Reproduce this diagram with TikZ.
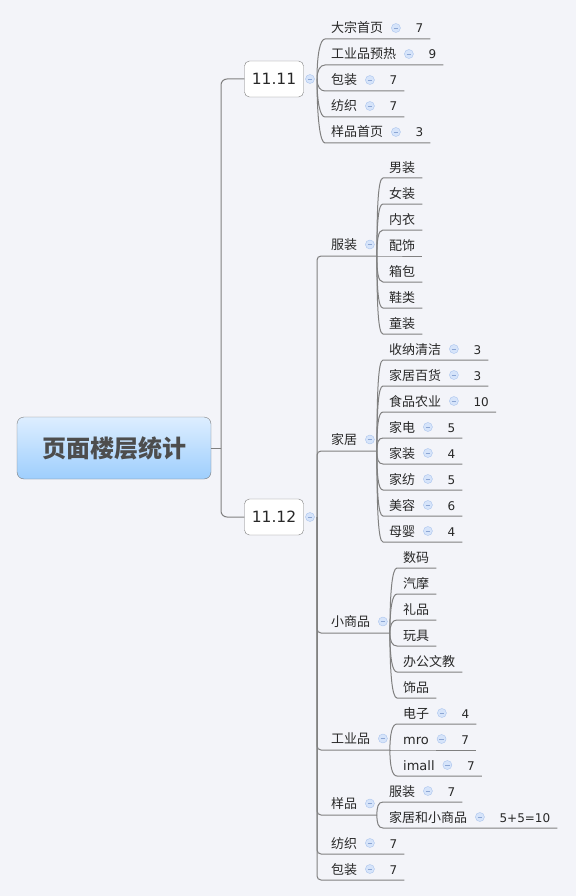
\documentclass[tikz,border=0pt]{standalone}
\usepackage{fontspec}
\usepackage{tikz}
\usepackage{xcolor}
\setmainfont{DejaVu Sans}
\newfontfamily\cjk{Noto Sans CJK SC}
\usetikzlibrary{positioning, calc}
\definecolor{mapBack}{RGB}{243,244,249}
\definecolor{mapLine}{RGB}{128,128,128}
\definecolor{mapInk}{RGB}{40,40,40}
\definecolor{knobFill}{RGB}{214,228,250}
\definecolor{knobEdge}{RGB}{170,196,238}
\definecolor{knobMinus}{RGB}{140,166,212}
\definecolor{rootTop}{RGB}{221,238,255}
\definecolor{rootBot}{RGB}{158,206,253}
\definecolor{rootInk}{RGB}{77,77,77}
\definecolor{boxEdge}{RGB}{125,125,125}

\begin{document}
\begin{tikzpicture}[x=1pt, y=-1pt,
    topic/.style={font=\cjk\fontsize{13}{15}\selectfont, text=mapInk, inner sep=0pt, anchor=base west},
    num/.style={font=\fontsize{12}{14}\selectfont, text=mapInk, inner sep=0pt, anchor=base west},
    knob/.style={circle, draw=knobEdge, fill=knobFill, minimum size=9pt, inner sep=0pt,
      path picture={\draw[draw=knobMinus, line width=0.8pt] ([xshift=-2.2pt]path picture bounding box.center) -- ([xshift=2.2pt]path picture bounding box.center);}},
    datebox/.style={rounded corners=5pt, draw=boxEdge, fill=white, minimum width=59pt, minimum height=36pt,
      font=\fontsize{15.5}{17}\selectfont, text=mapInk},
    root/.style={rounded corners=7pt, draw=boxEdge, top color=rootTop, bottom color=rootBot,
      minimum width=194pt, minimum height=62pt, font=\cjk\bfseries\fontsize{24}{28}\selectfont, text=rootInk},
    branch/.style={draw=mapLine, line width=1pt}
  ]
  \fill[mapBack] (0,0) rectangle (576,896);

  % root and the two dates
  \node[root] (root) at (114,448) {页面楼层统计};
  \node[datebox] (d11) at (274,79) {11.11};
  \node[datebox] (d12) at (274,517) {11.12};
  \node[knob] (d11k) at (310,79) {};
  \node[knob] (d12k) at (310,517) {};
  \coordinate (h0) at (221,448);
  \coordinate (h11) at (317,79);
  \coordinate (h12) at (317,517);
  \draw[branch] (root.east) -- (h0);
  \draw[branch, rounded corners=6pt] (h0) |- (d11.west);
  \draw[branch, rounded corners=6pt] (h0) |- (d12.west);

  % 11.11
  \foreach \t/\v [count=\i] in {大宗首页/7, 工业品预热/9, 包装/7, 纺织/7, 样品首页/3} {
    \coordinate (a-s\i) at (325,13+26*\i);
    \node[topic] (a-\i) at (331,7+26*\i) {\t};
    \node[knob] (a-k\i) at ($(a-\i.base east)+(12.5,-5)$) {};
    \node[num] (a-n\i) at ($(a-\i.base east)+(32,0)$) {\v};
    \draw[branch] (h11) .. controls ($(h11)!0.6!(h11|-a-s\i)$) and ($(a-s\i)+(-5,0)$) .. (a-s\i)
      -- ($(a-n\i.east|-a-s\i)+(7,0)$);
  }

  % 11.12
  \foreach \t/\u/\n in {服装/256/fz, 家居/451/jj, 小商品/633/xsp, 工业品/750/gyp, 样品/815/yp} {
    \node[topic] (\n) at (331,\u-6.5) {\t};
    \node[knob] (\n-k) at ($(\n.base east)+(12.5,-5)$) {};
    \coordinate (\n-h) at ($(\n-k.center|-0,\u)+(7,0)$);
    \draw[branch, rounded corners=4pt] (h12) |- (\n-h);
  }
  \foreach \t/\v/\u in {纺织/7/854, 包装/7/880} {
    \node[topic] (b-\u) at (331,\u-6) {\t};
    \node[knob] (b-k\u) at ($(b-\u.base east)+(12.5,-5)$) {};
    \node[num] (b-n\u) at ($(b-\u.base east)+(32,0)$) {\v};
    \coordinate (b-e\u) at ($(b-n\u.east|-0,\u)+(7,0)$);
    \draw[branch, rounded corners=4pt] (h12) |- (b-e\u);
  }

  \foreach \t [count=\i] in {男装, 女装, 内衣, 配饰, 箱包, 鞋类, 童装} {
    \coordinate (fz-s\i) at (383,152+26*\i);
    \node[topic] (fz-\i) at (389,146+26*\i) {\t};
    \draw[branch] (fz-h) .. controls ($(fz-h)!0.6!(fz-h|-fz-s\i)$) and ($(fz-s\i)+(-5,0)$) .. (fz-s\i)
      -- ($(fz-\i.base east|-fz-s\i)+(7,0)$);
  }

  \foreach \t/\v [count=\i] in {收纳清洁/3, 家居百货/3, 食品农业/10, 家电/5, 家装/4, 家纺/5, 美容/6, 母婴/4} {
    \coordinate (jj-s\i) at (383,334+26*\i);
    \node[topic] (jj-\i) at (389,328+26*\i) {\t};
    \node[knob] (jj-k\i) at ($(jj-\i.base east)+(12.5,-5)$) {};
    \node[num] (jj-n\i) at ($(jj-\i.base east)+(32,0)$) {\v};
    \draw[branch] (jj-h) .. controls ($(jj-h)!0.6!(jj-h|-jj-s\i)$) and ($(jj-s\i)+(-5,0)$) .. (jj-s\i)
      -- ($(jj-n\i.east|-jj-s\i)+(7,0)$);
  }

  \foreach \t [count=\i] in {数码, 汽摩, 礼品, 玩具, 办公文教, 饰品} {
    \coordinate (xsp-s\i) at (397,542+26*\i);
    \node[topic] (xsp-\i) at (403,536+26*\i) {\t};
    \draw[branch] (xsp-h) .. controls ($(xsp-h)!0.6!(xsp-h|-xsp-s\i)$) and ($(xsp-s\i)+(-5,0)$) .. (xsp-s\i)
      -- ($(xsp-\i.base east|-xsp-s\i)+(7,0)$);
  }

  \foreach \t/\v [count=\i] in {电子/4, {\rmfamily mro}/7, {\rmfamily imall}/7} {
    \coordinate (gyp-s\i) at (397,698+26*\i);
    \node[topic] (gyp-\i) at (403,692+26*\i) {\t};
    \node[knob] (gyp-k\i) at ($(gyp-\i.base east)+(12.5,-5)$) {};
    \node[num] (gyp-n\i) at ($(gyp-\i.base east)+(32,0)$) {\v};
    \draw[branch] (gyp-h) .. controls ($(gyp-h)!0.6!(gyp-h|-gyp-s\i)$) and ($(gyp-s\i)+(-5,0)$) .. (gyp-s\i)
      -- ($(gyp-n\i.east|-gyp-s\i)+(7,0)$);
  }

  \foreach \t/\v [count=\i] in {服装/7, 家居和小商品/5+5=10} {
    \coordinate (yp-s\i) at (383,776+26*\i);
    \node[topic] (yp-\i) at (389,770+26*\i) {\t};
    \node[knob] (yp-k\i) at ($(yp-\i.base east)+(12.5,-5)$) {};
    \node[num] (yp-n\i) at ($(yp-\i.base east)+(32,0)$) {\v};
    \draw[branch] (yp-h) .. controls ($(yp-h)!0.6!(yp-h|-yp-s\i)$) and ($(yp-s\i)+(-5,0)$) .. (yp-s\i)
      -- ($(yp-n\i.east|-yp-s\i)+(7,0)$);
  }
\end{tikzpicture}
\end{document}
